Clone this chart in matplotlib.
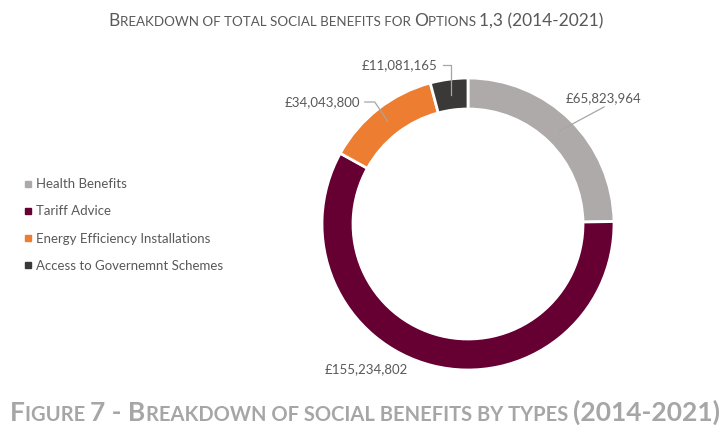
import matplotlib
matplotlib.use("Agg")
import matplotlib.pyplot as plt
from matplotlib.lines import Line2D
from matplotlib.transforms import IdentityTransform
import numpy as np

# Data
categories = ["Health Benefits", "Tariff Advice",
              "Energy Efficiency Installations", "Access to Governemnt Schemes"]
values = [65823964, 155234802, 34043800, 11081165]
value_labels = ["£65,823,964", "£155,234,802", "£34,043,800", "£11,081,165"]
colors = ["#AEAAAA", "#660033", "#ED7D31", "#3B3838"]

title = "Breakdown of total social benefits for Options 1,3 (2014-2021)"
caption = "Figure 7 - Breakdown of social benefits by types (2014-2021)"

plt.rcParams["font.family"] = ["Lato", "DejaVu Sans"]
TEXT = "#595959"

W, H = 726, 425
fig = plt.figure(figsize=(W / 100, H / 100), dpi=100)
ax = fig.add_axes([0, 0, 1, 1])

# donut, in pixel-like data units
cx, cy, R, ring = 468, 201, 146, 31
wedges, _ = ax.pie(values, colors=colors, startangle=90, counterclock=False,
                   radius=R, center=(cx, cy),
                   wedgeprops=dict(width=ring, edgecolor="white", linewidth=2))
ax.set_xlim(0, W)
ax.set_ylim(0, H)
ax.set_aspect("auto")
ax.axis("off")

# label layout: text centre offset from donut centre, and leader style
label_offsets = [(136, 126), (-102, -145), (-146, 122), (-68, 159)]
leader_style = ["bottom", None, "right", "right"]

for w, lab, off, style in zip(wedges, value_labels, label_offsets, leader_style):
    mid = np.deg2rad((w.theta1 + w.theta2) / 2)
    ax_, ay_ = cx + (R - ring / 2) * np.cos(mid), cy + (R - ring / 2) * np.sin(mid)
    tx, ty = cx + off[0], cy + off[1]
    t = ax.text(tx, ty, lab, ha="center", va="center", fontsize=9.5, color=TEXT)
    if style is None:
        continue
    fig.canvas.draw()
    bb = t.get_window_extent().transformed(ax.transData.inverted())
    if style == "bottom":
        xs, ys = [tx, ax_], [bb.y0 - 3, ay_]
    else:
        x0 = bb.x1 + 5
        xs, ys = [x0, x0 + 10, ax_], [ty, ty, ay_]
        if abs(ax_ - (x0 + 10)) < 6:
            xs[1] = ax_
    ax.plot(xs, ys, color="#A6A6A6", lw=0.9)

handles = [Line2D([], [], marker="s", linestyle="none", markersize=5,
                  markerfacecolor=c, markeredgecolor=c) for c in colors]
leg = ax.legend(handles, categories, loc="upper left",
                bbox_to_anchor=(19 / W, 1 - 173 / H), frameon=False,
                fontsize=9.5, labelcolor=TEXT, handlelength=0.6,
                handletextpad=0.3, labelspacing=1.15, borderaxespad=0)


def small_caps(s, x_center, y_base, big, small, **kw):
    # split into runs: lowercase letters become smaller capitals
    runs = []
    for ch in s:
        kind = "small" if ch.islower() else "big"
        if ch == " " and runs:
            kind = runs[-1][0]
        if runs and runs[-1][0] == kind:
            runs[-1][1] += ch
        else:
            runs.append([kind, ch])
    renderer = fig.canvas.get_renderer()
    texts, x = [], 0
    for kind, txt in runs:
        t = fig.text(x, y_base, txt.upper(), transform=IdentityTransform(),
                     fontsize=big if kind == "big" else small,
                     va="baseline", ha="left", **kw)
        x = t.get_window_extent(renderer).x1
        texts.append(t)
    shift = x_center - x / 2
    for t in texts:
        px, py = t.get_position()
        t.set_position((px + shift, py))


small_caps(title, 356, H - 26, 12.5, 9.6, color=TEXT)
small_caps(caption, 365, H - 421, 19, 14.5, color="#A6A6A6", fontweight="bold")

fig.savefig("out.png", dpi=100)
